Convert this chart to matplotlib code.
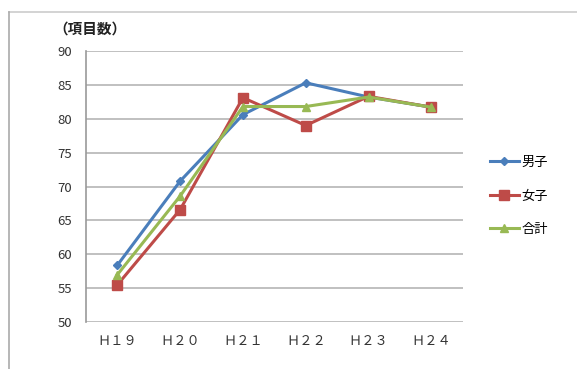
import matplotlib
matplotlib.use("Agg")
import matplotlib.pyplot as plt
from matplotlib.lines import Line2D

plt.rcParams['font.family'] = ['Noto Sans CJK JP', 'DejaVu Sans']

categories = ["Ｈ１９", "Ｈ２０", "Ｈ２１", "Ｈ２２", "Ｈ２３", "Ｈ２４"]
male = [58.4, 70.8, 80.6, 85.3, 83.2, 81.7]
female = [55.5, 66.6, 83.1, 79.0, 83.3, 81.7]
total = [57.0, 68.6, 81.8, 81.8, 83.2, 81.7]
series_names = ["男子", "女子", "合計"]

fig = plt.figure(figsize=(5.77, 3.69), dpi=100)
ax = fig.add_axes([0.149, 0.127, 0.653, 0.735])

x = list(range(len(categories)))
colors = ["#4a7ebb", "#be4b48", "#98b954"]
markers = ["D", "s", "^"]
msizes = [4.5, 6.5, 6]
for vals, c, m, ms, name in zip([male, female, total], colors, markers, msizes, series_names):
    ax.plot(x, vals, color=c, marker=m, markersize=ms, linewidth=2.2, label=name)

ax.set_xlim(-0.5, len(categories) - 0.5)
ax.set_ylim(50, 90)
ax.set_yticks(range(50, 91, 5))
ax.set_xticks(x)
ax.set_xticklabels(categories, fontsize=9.5, color="#333333")
ax.tick_params(axis='y', labelsize=9.5, colors="#333333", length=0, pad=10)
ax.tick_params(axis='x', length=0, pad=9)
ax.yaxis.grid(True, color="#bbbbbb", linewidth=1.3)
ax.set_axisbelow(True)
for s in ["top", "right", "bottom"]:
    ax.spines[s].set_visible(False)
ax.spines["left"].set_color("#999999")
ax.spines["left"].set_linewidth(1.2)

fig.text(0.092, 0.922, "（項目数）", fontsize=10.5, fontweight="bold", color="#222222", ha="left", va="center")

leg = ax.legend(loc="center left", bbox_to_anchor=(1.04, 0.465), frameon=False,
                fontsize=9.5, handlelength=2.2, labelspacing=1.55, handletextpad=0.2)

# outer chart area border (top and left)
fig.add_artist(Line2D([0.015, 1.0], [0.967, 0.967], color="#cccccc", linewidth=1.2, transform=fig.transFigure))
fig.add_artist(Line2D([0.015, 0.015], [0.0, 0.967], color="#aaaaaa", linewidth=1.2, transform=fig.transFigure))

fig.savefig("out.png", dpi=100)
